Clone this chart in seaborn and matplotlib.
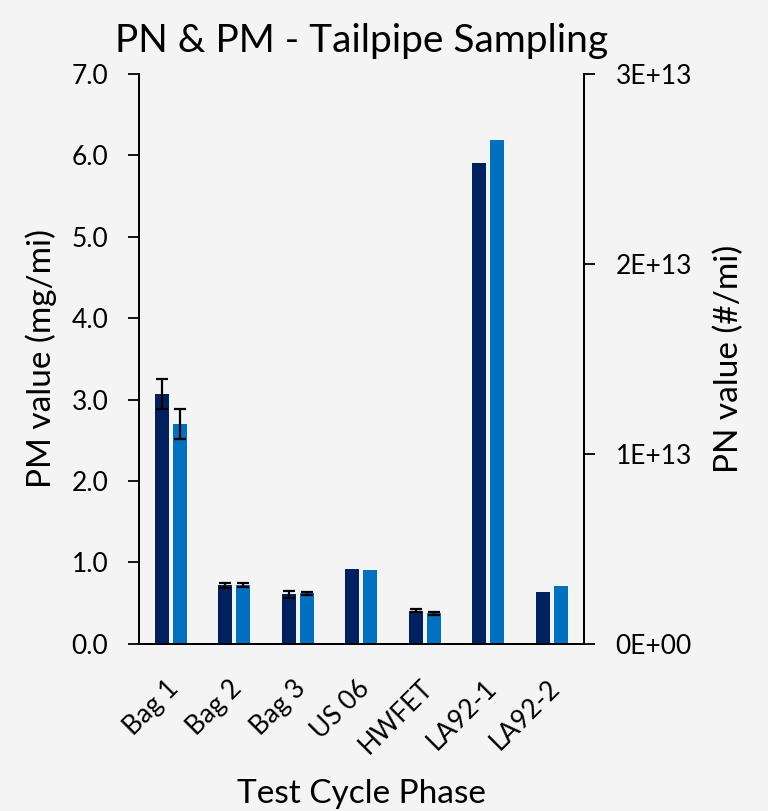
import numpy as np
import pandas as pd
import matplotlib
matplotlib.use("Agg")
import matplotlib.pyplot as plt
import matplotlib.transforms as mtransforms
import seaborn as sns

# Test cycle phases
phases = ["Bag 1", "Bag 2", "Bag 3", "US 06", "HWFET", "LA92-1", "LA92-2"]

# PM (mg/mi) means and error half-widths
pm_values = [3.07, 0.72, 0.61, 0.92, 0.41, 5.90, 0.64]
pm_errors = [0.18, 0.03, 0.04, 0.0, 0.015, 0.0, 0.0]

# PN (#/mi) means and error half-widths
pn_values = [1.157e13, 3.11e12, 2.66e12, 3.90e12, 1.61e12, 2.653e13, 3.04e12]
pn_errors = [8.1e11, 9e10, 9e10, 0.0, 9e10, 0.0, 0.0]

pm_ticks = [0.0, 1.0, 2.0, 3.0, 4.0, 5.0, 6.0, 7.0]
pn_ticks = [0, 1e13, 2e13, 3e13]
pn_tick_labels = ["0E+00", "1E+13", "2E+13", "3E+13"]

series_order = ["PM", "PN"]
palette = {"PM": "#002060", "PN": "#0070C0"}

pm_df = pd.DataFrame({"phase": phases, "value": pm_values, "series": "PM"})
pn_df = pd.DataFrame({"phase": phases, "value": pn_values, "series": "PN"})

sns.set_theme(style="white")
plt.rcParams["font.family"] = ["Lato", "DejaVu Sans"]
plt.rcParams["text.color"] = "black"
plt.rcParams["axes.labelcolor"] = "black"
plt.rcParams["xtick.color"] = "black"
plt.rcParams["ytick.color"] = "black"

bg = "#f4f4f4"
fig = plt.figure(figsize=(7.68, 8.11), dpi=100, facecolor=bg)
ax = fig.add_axes([0.181, 0.206, 0.579, 0.703])
ax.set_facecolor("none")
ax2 = ax.twinx()
ax2.set_facecolor("none")

bar_kw = dict(x="phase", y="value", hue="series", hue_order=series_order,
              order=phases, palette=palette, width=0.566, gap=0.22,
              dodge=True, errorbar=None, legend=False, saturation=1,
              linewidth=0)
sns.barplot(data=pm_df, ax=ax, **bar_kw)
sns.barplot(data=pn_df, ax=ax2, **bar_kw)

# error bars centred on each drawn bar
def add_errors(axis, values, errors):
    bars = sorted([p for p in axis.patches if p.get_height() > 0],
                  key=lambda p: p.get_x())
    for bar, val, err in zip(bars, values, errors):
        if err > 0:
            xc = bar.get_x() + bar.get_width() / 2
            axis.errorbar(xc, val, yerr=err, fmt="none", ecolor="black",
                          elinewidth=1.6, capsize=4.5, capthick=1.6, zorder=5)

add_errors(ax, pm_values, pm_errors)
add_errors(ax2, pn_values, pn_errors)

n = len(phases)
for a in (ax, ax2):
    a.set_xlim(-0.5, n - 0.5)
    a.set_xticks(np.arange(n + 1) - 0.5)
    a.set_xticklabels([])
    a.set_xticks(np.arange(n), minor=True)
    a.grid(False)

ax.set_xticklabels(phases, minor=True, rotation=45, ha="right", va="center",
                   rotation_mode="anchor", fontsize=19)
ax.tick_params(axis="x", which="minor", length=0, pad=29)
ax.tick_params(axis="x", which="major", length=8, width=1.3, color="black",
               direction="out")
ax2.tick_params(axis="x", which="both", length=0)
shift = mtransforms.ScaledTranslation(4 / 100, 0, fig.dpi_scale_trans)
for lab in ax.get_xticklabels(minor=True):
    lab.set_transform(lab.get_transform() + shift)

ax.set_ylim(0, 7.0)
ax.set_yticks(pm_ticks)
ax.set_yticklabels([f"{t:.1f}" for t in pm_ticks], fontsize=19)
ax.tick_params(axis="y", length=8, width=1.3, color="black", direction="out",
               pad=14, left=True)

ax2.set_ylim(0, 3e13)
ax2.set_yticks(pn_ticks)
ax2.set_yticklabels(pn_tick_labels, fontsize=19)
ax2.tick_params(axis="y", length=8, width=1.3, color="black", direction="out",
                pad=15, right=True)

for a in (ax, ax2):
    for side in ("left", "bottom", "right"):
        a.spines[side].set_visible(True)
        a.spines[side].set_color("black")
        a.spines[side].set_linewidth(1.4)
    a.spines["top"].set_visible(False)

ax.set_xlabel("Test Cycle Phase", fontsize=24, va="baseline")
ax.xaxis.set_label_coords(0.5, -0.279)
ax.set_ylabel("PM value (mg/mi)", fontsize=24, va="center")
ax.yaxis.set_label_coords(-0.220, 0.5)
ax2.set_ylabel("PN value (#/mi)", fontsize=24, va="center")
ax2.yaxis.set_label_coords(1.326, 0.5)
ax2.set_xlabel("")
ax.set_title("PN & PM - Tailpipe Sampling", fontsize=28, pad=16)

fig.savefig("out.png", dpi=100, facecolor=bg)
